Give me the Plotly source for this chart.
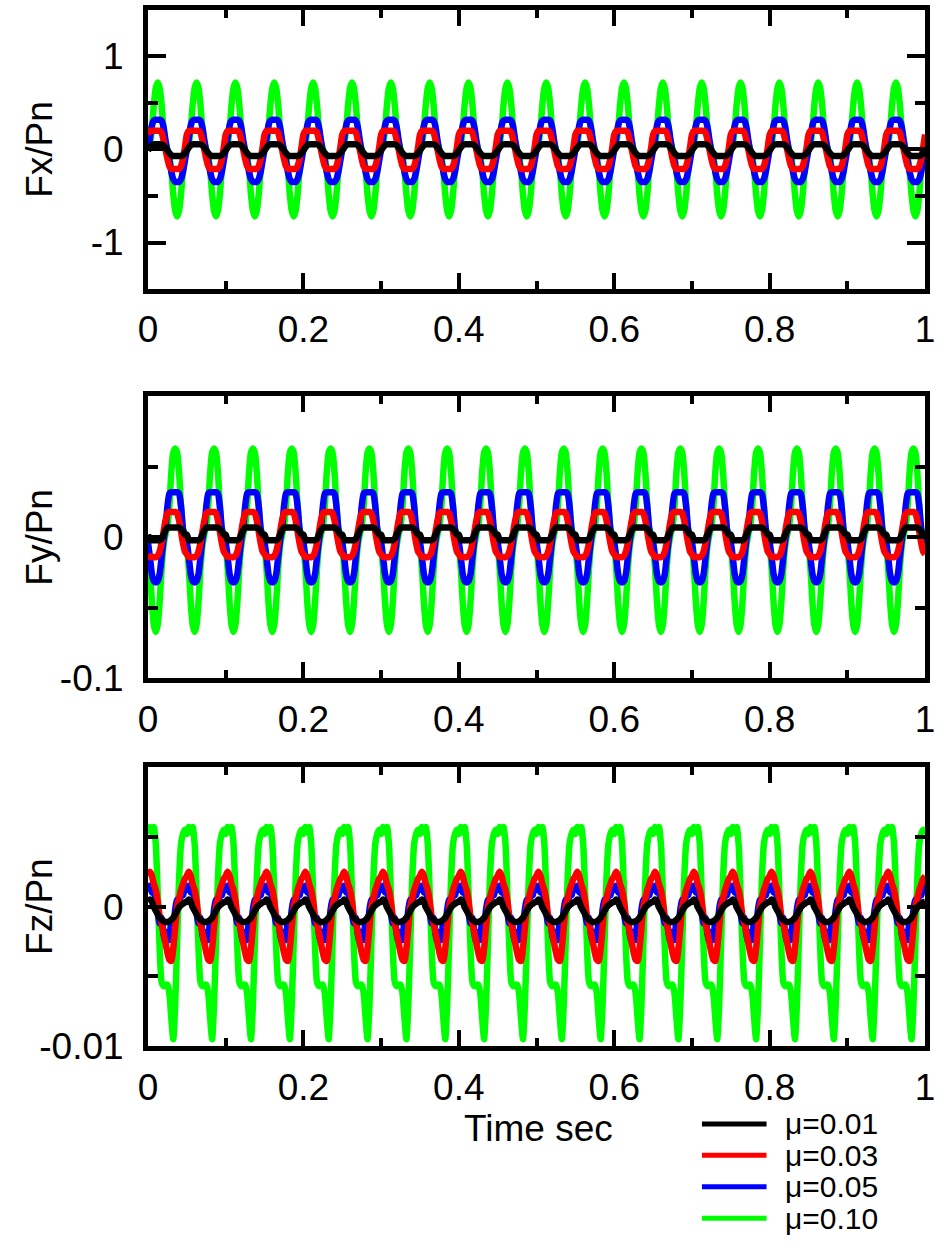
import numpy as np
import plotly.graph_objects as go

# ---------------- data ----------------
PERIOD = 0.05          # s, one cycle of the periodic response
N_CYCLES = 20          # cycles shown between 0 and 1 s
PHASE = [0.00, 0.05, 0.10, 0.15, 0.20, 0.25, 0.30, 0.35, 0.40, 0.45,
         0.50, 0.55, 0.60, 0.65, 0.70, 0.75, 0.80, 0.85, 0.90, 0.95]

series_labels = ["\u03bc=0.01", "\u03bc=0.03", "\u03bc=0.05", "\u03bc=0.10"]
series_colors = ["#000000", "#ff0000", "#0000ff", "#00ff00"]

# Fx/Pn, one cycle per series
fx_mu001 = [-0.01, 0.02, 0.045, 0.055, 0.055, 0.055, 0.055, 0.055, 0.045, 0.02,
            -0.01, -0.04, -0.06, -0.07, -0.07, -0.07, -0.07, -0.07, -0.06, -0.04]
fx_mu003 = [0.16, 0.20, 0.20, 0.20, 0.20, 0.20, 0.20, 0.18, 0.10, 0.00,
            -0.10, -0.18, -0.21, -0.21, -0.21, -0.21, -0.21, -0.18, -0.10, 0.02]
fx_mu005 = [0.00, 0.12, 0.26, 0.31, 0.32, 0.32, 0.32, 0.31, 0.24, 0.10,
            -0.02, -0.12, -0.24, -0.32, -0.35, -0.35, -0.35, -0.32, -0.24, -0.12]
fx_mu010 = [0.00, 0.06, 0.22, 0.48, 0.66, 0.72, 0.66, 0.48, 0.22, 0.08,
            0.00, -0.08, -0.22, -0.48, -0.66, -0.72, -0.66, -0.48, -0.22, -0.06]

# Fy/Pn, one cycle per series
fy_mu001 = [0.002, -0.002, -0.002, -0.002, -0.002, -0.002, -0.002, -0.001, 0.002, 0.005,
            0.007, 0.007, 0.007, 0.007, 0.007, 0.007, 0.007, 0.006, 0.004, 0.002]
fy_mu003 = [-0.012, -0.014, -0.014, -0.014, -0.014, -0.013, -0.010, -0.004, 0.004, 0.012,
            0.017, 0.018, 0.018, 0.018, 0.018, 0.017, 0.012, 0.004, -0.004, -0.010]
fy_mu005 = [-0.004, -0.014, -0.026, -0.031, -0.032, -0.031, -0.026, -0.014, -0.002, 0.006,
            0.022, 0.031, 0.032, 0.032, 0.032, 0.032, 0.031, 0.022, 0.006, 0.000]
fy_mu010 = [-0.006, -0.022, -0.046, -0.062, -0.067, -0.062, -0.046, -0.022, -0.006, 0.002,
            0.008, 0.022, 0.046, 0.060, 0.063, 0.060, 0.046, 0.022, 0.006, 0.002]

# Fz/Pn, one cycle per series
fz_mu001 = [0.00035, 0.0005, 0.00035, -0.00005, -0.0003, -0.00055, -0.0008, -0.00095, -0.00105, -0.0011,
            -0.0011, -0.00105, -0.00095, -0.0008, -0.00055, -0.0003, -0.00005, 0.0001, 0.0002, 0.0003]
fz_mu003 = [0.0022, 0.0025, 0.0022, 0.0016, 0.0012, 0.0004, -0.0007, -0.0012, -0.0019, -0.0026,
            -0.0033, -0.0038, -0.0039, -0.0030, -0.0015, 0.0000, 0.0006, 0.0012, 0.0016, 0.0020]
fz_mu005 = [0.0012, 0.0015, 0.0010, 0.0013, 0.0002, -0.0005, -0.0012, -0.0008, -0.0020, -0.0026,
            -0.0018, -0.0024, -0.0010, -0.0016, -0.0002, 0.0005, 0.0000, 0.0010, 0.0008, 0.0015]
fz_mu010 = [0.0052, 0.0057, 0.0053, 0.0057, 0.0045, 0.0010, -0.0030, -0.0054, -0.0057, -0.0056,
            -0.0056, -0.0062, -0.0080, -0.0095, -0.0070, -0.0025, 0.0020, 0.0045, 0.0052, 0.0055]

panels = [
    ("Fx/Pn", [fx_mu001, fx_mu003, fx_mu005, fx_mu010]),
    ("Fy/Pn", [fy_mu001, fy_mu003, fy_mu005, fy_mu010]),
    ("Fz/Pn", [fz_mu001, fz_mu003, fz_mu005, fz_mu010]),
]
y_ranges = [[-1.5, 1.5], [-0.1, 0.1], [-0.01, 0.01]]
y_major = [[-1, 0, 1], [-0.1, 0], [-0.01, 0]]
y_major_text = [["-1", "0", "1"], ["-0.1", "0"], ["-0.01", "0"]]
y_minor = [[-0.5, 0.5], [-0.05, 0.05], [-0.005, 0.005]]
x_major = [0, 0.2, 0.4, 0.6, 0.8, 1]
x_major_text = ["0", "0.2", "0.4", "0.6", "0.8", "1"]
x_minor = [0.1, 0.3, 0.5, 0.7, 0.9]
x_title = "Time sec"

# ---------------- build figure ----------------
W, H = 940, 1256
FONT = "Liberation Sans, Arial, sans-serif"

def cycle_series(values):
    ph = np.asarray(PHASE)
    v = np.asarray(values)
    t = np.concatenate([(k + ph) * PERIOD for k in range(N_CYCLES)] + [[N_CYCLES * PERIOD]])
    y = np.concatenate([v for _ in range(N_CYCLES)] + [[v[0]]])
    return t, y

# panel pixel boxes (top, bottom)
x_px = (141, 935)
panel_px = [(10, 294), (403, 690), (780, 1064)]

fig = go.Figure()
layout = dict(width=W, height=H, margin=dict(l=0, r=0, t=0, b=0),
              paper_bgcolor="white", plot_bgcolor="white", showlegend=False,
              font=dict(family=FONT, color="black"))

for i, (title, series) in enumerate(panels):
    n = "" if i == 0 else str(i + 1)
    xa, ya = "x" + n, "y" + n
    order = [3, 2, 1, 0]  # draw green first, black on top
    for j in order:
        t, y = cycle_series(series[j])
        fig.add_trace(go.Scatter(x=t, y=y, mode="lines", name=series_labels[j],
                                 line=dict(color=series_colors[j], width=6.5, shape="spline", smoothing=0.6),
                                 xaxis=xa, yaxis=ya, showlegend=False))
    top, bot = panel_px[i]
    layout["xaxis" + n] = dict(
        domain=[x_px[0] / W, x_px[1] / W], range=[0, 1], anchor=ya,
        tickmode="array", tickvals=x_major, ticktext=x_major_text,
        ticks="inside", ticklen=16, tickwidth=3.5, tickcolor="black",
        showline=True, linewidth=5, linecolor="black", mirror="ticks",
        showgrid=False, zeroline=False, ticklabelstandoff=4,
        ticklabeloverflow="allow",
        tickfont=dict(family=FONT, size=37, color="black"),
        minor=dict(tickmode="array", tickvals=x_minor, ticks="inside", ticklen=8,
                   tickwidth=3.5, tickcolor="black", showgrid=False))
    layout["yaxis" + n] = dict(
        domain=[1 - bot / H, 1 - top / H], range=y_ranges[i], anchor=xa,
        tickmode="array", tickvals=y_major[i], ticktext=y_major_text[i],
        ticks="inside", ticklen=18, tickwidth=3.5, tickcolor="black",
        showline=True, linewidth=5, linecolor="black", mirror="ticks",
        showgrid=False, zeroline=False, ticklabelstandoff=12,
        ticklabeloverflow="allow",
        tickfont=dict(family=FONT, size=37, color="black"),
        minor=dict(tickmode="array", tickvals=y_minor[i], ticks="inside", ticklen=10,
                   tickwidth=3.5, tickcolor="black", showgrid=False))

annotations = []
shapes = []
for i, (title, _) in enumerate(panels):
    top, bot = panel_px[i]
    annotations.append(dict(text=title, x=30 / W, y=1 - (top + bot) / 2 / H, xref="paper", yref="paper",
                            textangle=-90, showarrow=False, xanchor="center", yanchor="middle",
                            font=dict(family=FONT, size=37, color="black")))
annotations.append(dict(text=x_title, x=540 / W, y=1 - 1148 / H, xref="paper", yref="paper",
                        showarrow=False, xanchor="center", yanchor="middle",
                        font=dict(family=FONT, size=37, color="black")))
# legend (bottom right)
leg_y = [1143, 1175, 1207, 1239]
for k in range(4):
    shapes.append(dict(type="line", xref="paper", yref="paper",
                       x0=707 / W, x1=773 / W, y0=1 - leg_y[k] / H, y1=1 - leg_y[k] / H,
                       line=dict(color=series_colors[k], width=5)))
    annotations.append(dict(text=series_labels[k], x=790 / W, y=1 - leg_y[k] / H, xref="paper", yref="paper",
                            showarrow=False, xanchor="left", yanchor="middle",
                            font=dict(family=FONT, size=30, color="black")))

layout["annotations"] = annotations
layout["shapes"] = shapes
fig.update_layout(**layout)
fig.write_html("out.html")
